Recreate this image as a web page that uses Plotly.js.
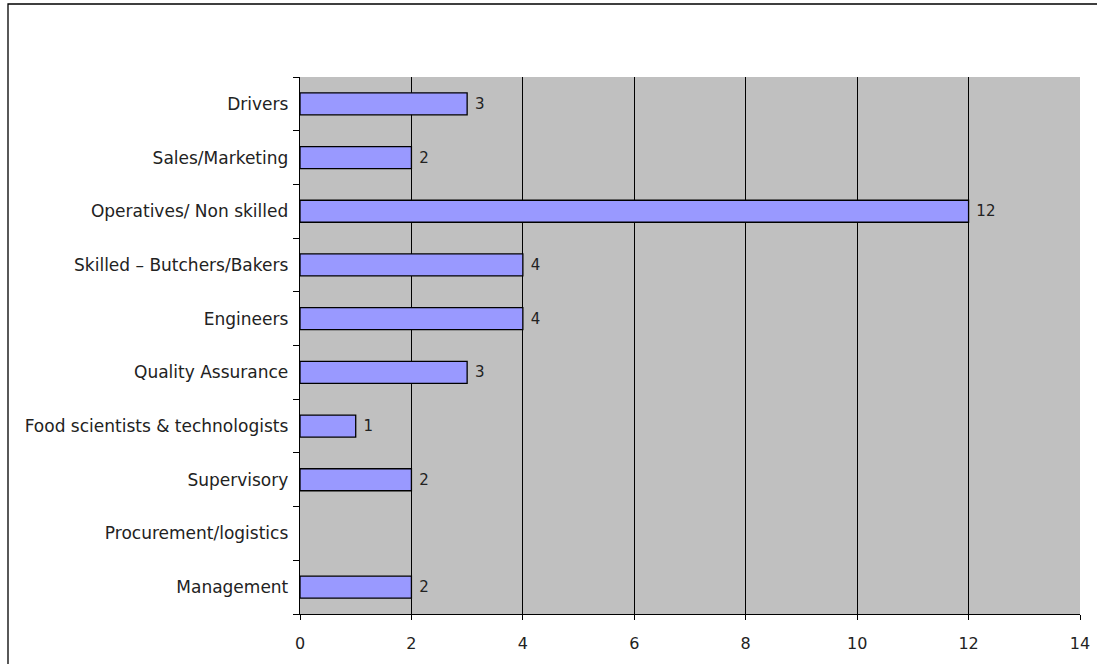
<!DOCTYPE html>
<html>
<head>
<meta charset="utf-8">
<script src="https://cdn.plot.ly/plotly-3.0.1.min.js"></script>
<style>html,body{margin:0;padding:0;background:#fff;}#chart{width:1097px;height:664px;}</style>
</head>
<body>
<div id="chart"></div>
<script>
const categories = ["Management","Procurement/logistics","Supervisory","Food scientists & technologists","Quality Assurance","Engineers","Skilled \u2013 Butchers/Bakers","Operatives/ Non skilled","Sales/Marketing","Drivers"];
const values = [2, null, 2, 1, 3, 4, 4, 12, 2, 3];
const xTicks = [0,2,4,6,8,10,12,14];

const L=300, R=1080, T=77, B=614;
const pw = R-L, ph = B-T;
const FONT = '"DejaVu Sans", sans-serif';

const trace = {
  type: 'bar', orientation: 'h',
  y: categories, x: values,
  text: values.map(v => v === null ? '' : '\u00a0' + String(v)),
  textposition: 'outside', cliponaxis: false, constraintext: 'none',
  textfont: {family: FONT, size: 15, color: '#222'},
  marker: {color: '#9999FF', line: {color: '#000', width: 1.3}},
  width: 0.41,
  hoverinfo: 'none'
};

const layout = {
  width: 1097, height: 664,
  margin: {l: L, r: 1097-R, t: T, b: 664-B, pad: 0},
  paper_bgcolor: '#fff', plot_bgcolor: '#C0C0C0',
  showlegend: false,
  font: {family: FONT, size: 15, color: '#222'},
  xaxis: {
    range: [0,14], tickvals: xTicks, ticktext: xTicks.map(String),
    showgrid: true, gridcolor: '#000', gridwidth: 1,
    zeroline: false, showline: true, linecolor: '#000', linewidth: 1.3,
    ticks: 'outside', ticklen: 5, tickcolor: '#000', tickwidth: 1,
    tickfont: {family: FONT, size: 16, color: '#222'}, ticklabelstandoff: 9, fixedrange: true
  },
  yaxis: {
    type: 'category', range: [-0.5, 9.5],
    showgrid: false, zeroline: false, showline: true, linecolor: '#000', linewidth: 1.3,
    ticks: 'outside', ticklen: 6, tickcolor: '#000', tickson: 'boundaries',
    tickfont: {family: FONT, size: 17, color: '#222'}, ticklabelstandoff: 7, fixedrange: true
  },
  shapes: [{
    type: 'rect', xref: 'paper', yref: 'paper',
    x0: (8-L)/pw, x1: (1110-L)/pw,
    y0: (B-680)/ph, y1: (B-4)/ph,
    line: {color: '#000', width: 1.3}, fillcolor: 'rgba(0,0,0,0)', layer: 'below'
  }]
};

Plotly.newPlot('chart', [trace], layout, {staticPlot: true, displayModeBar: false});
</script>
</body>
</html>
